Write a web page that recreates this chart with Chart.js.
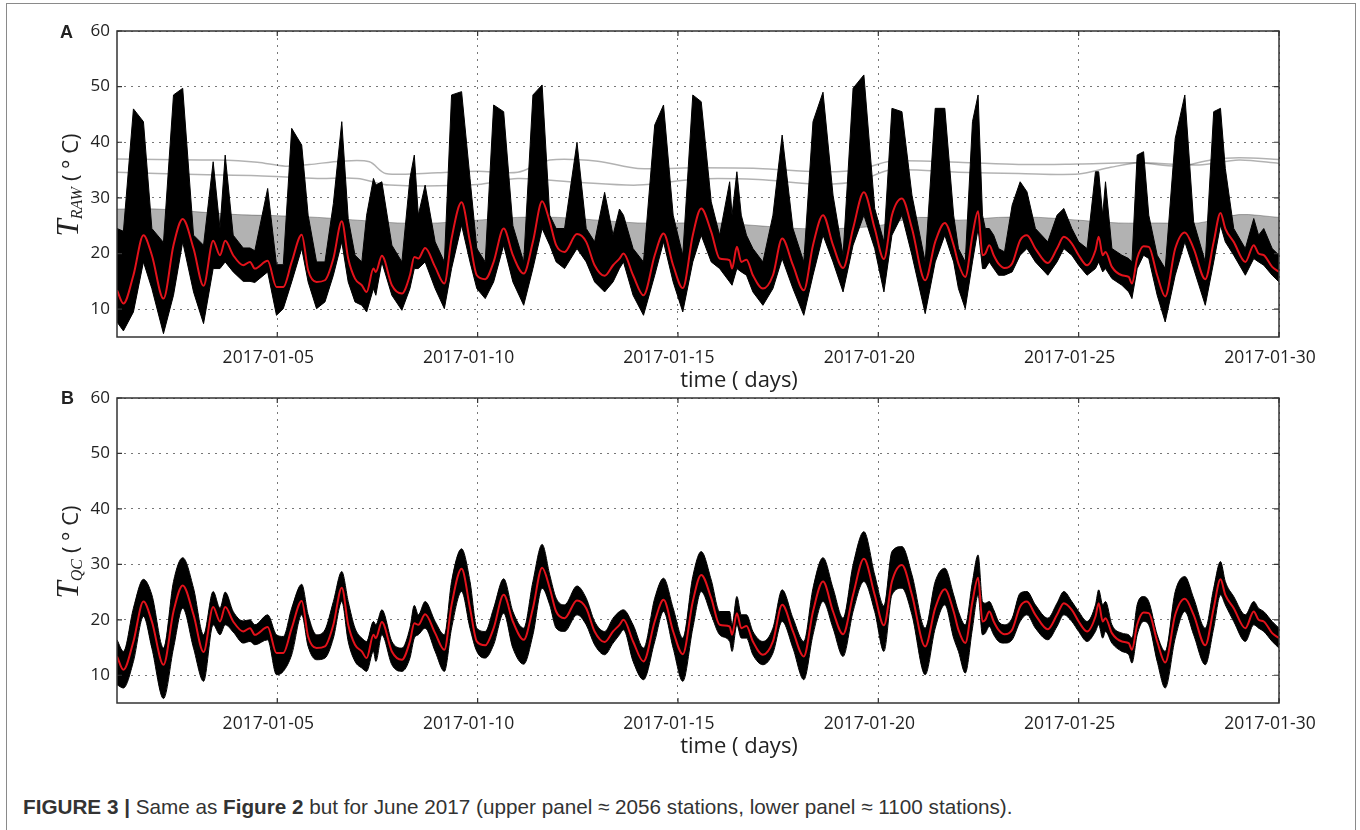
<!DOCTYPE html>
<html>
<head>
<meta charset="utf-8">
<script src="https://cdn.jsdelivr.net/npm/chart.js@4.4.1/dist/chart.umd.min.js"></script>
<style>
  body { margin: 0; background: #fff; width: 1360px; height: 830px; position: relative; overflow: hidden; font-family: "Open Sans", sans-serif; color: #222; }
  .frame { position: absolute; left: 6px; top: 3px; width: 1348px; height: 850px; border: 1.5px solid #8a8a8a; border-bottom: none; }
  canvas { position: absolute; left: 0; }
  .letter { position: absolute; font-family: "Liberation Sans", sans-serif; font-weight: bold; font-size: 18px; line-height: 1; }
  .ytitle { position: absolute; transform: translate(-50%, -50%) rotate(-90deg); white-space: nowrap; font-size: 22px; line-height: 1; }
  .ytitle i { font-family: "Liberation Serif", serif; font-size: 31px; }
  .ytitle sub { font-family: "Liberation Serif", serif; font-style: italic; font-size: 16px; vertical-align: -4px; margin-right: 6px; }
  .xtitle { position: absolute; transform: translate(-50%, -50%); font-size: 22px; white-space: nowrap; }
  .caption { position: absolute; left: 23px; top: 795px; font-family: "Liberation Sans", sans-serif; font-size: 20.7px; color: #333; white-space: nowrap; }
</style>
</head>
<body>
<div class="frame"></div>
<canvas id="chartA" width="1360" height="367" style="top:0"></canvas>
<canvas id="chartB" width="1360" height="400" style="top:367px"></canvas>

<div class="letter" style="left:60px;top:23px">A</div>
<div class="letter" style="left:61px;top:389px">B</div>
<div class="ytitle" style="left:68px;top:185px"><i>T</i><sub>RAW</sub>( ° C)</div>
<div class="ytitle" style="left:68px;top:552px"><i>T</i><sub>QC</sub>( ° C)</div>
<div class="xtitle" style="left:739px;top:378px">time ( days)</div>
<div class="xtitle" style="left:739px;top:744px">time ( days)</div>
<div class="caption"><b>FIGURE 3 |</b> Same as <b>Figure 2</b> but for June 2017 (upper panel ≈ 2056 stations, lower panel ≈ 1100 stations).</div>

<script>
// sample times (day of month) shared by the median and the station envelopes
const days = [
  1.0, 1.16, 1.41, 1.66, 1.87,
  2.16, 2.41, 2.64, 2.91,
  3.16, 3.40, 3.57, 3.70, 3.90,
  4.15, 4.32, 4.44, 4.76, 4.98,
  5.15, 5.36, 5.61, 5.77, 5.98,
  6.19, 6.40, 6.61, 6.77, 6.94,
  7.11, 7.23, 7.40, 7.46, 7.61, 7.86,
  8.11, 8.31, 8.42, 8.52, 8.69, 8.94,
  9.17, 9.35, 9.60, 9.81, 9.98,
  10.19, 10.40, 10.65, 10.88,
  11.15, 11.38, 11.61, 11.80, 11.96,
  12.17, 12.48, 12.71, 12.92,
  13.17, 13.38, 13.54, 13.64, 13.88,
  14.14, 14.42, 14.64, 14.88,
  15.12, 15.37, 15.58, 15.83,
  16.04, 16.29, 16.35, 16.47, 16.58, 16.71, 16.87,
  17.12, 17.37, 17.60, 17.87,
  18.14, 18.37, 18.62, 18.87,
  19.12, 19.37, 19.64, 19.91,
  20.14, 20.34, 20.59, 20.84,
  21.17, 21.42, 21.66, 21.88,
  22.00, 22.17, 22.35, 22.49, 22.60, 22.67, 22.77, 22.88,
  23.00, 23.15, 23.34, 23.54, 23.71, 23.92,
  24.23, 24.46, 24.63, 24.83,
  25.00, 25.21, 25.42, 25.50, 25.60, 25.67, 25.83,
  26.08, 26.25, 26.33, 26.46, 26.62, 26.75, 26.96,
  27.16, 27.41, 27.65, 27.87,
  28.16, 28.37, 28.54, 28.66, 28.87,
  29.16, 29.37, 29.49, 29.62, 29.83,
  30.0
];

// median over stations (red line)
const medianTemp = [
  13.4, 11.0, 16.1, 23.3, 19.7,
  11.9, 21.5, 26.2, 20.9,
  14.2, 22.3, 19.7, 22.3, 19.7,
  17.9, 18.5, 17.3, 18.7, 14.0,
  14.0, 18.5, 23.4, 17.0, 14.9,
  15.2, 19.1, 25.8, 19.1, 15.5,
  14.3, 13.1, 17.3, 16.7, 19.6, 14.3,
  12.8, 16.1, 19.4, 19.1, 21.0, 17.6,
  14.6, 22.7, 29.2, 22.1, 16.1,
  15.4, 18.5, 24.5, 19.7,
  16.4, 22.1, 29.4, 25.7, 21.5,
  20.3, 23.5, 22.1, 17.9,
  16.0, 17.9, 19.1, 20.0, 16.1,
  12.5, 19.7, 23.6, 17.9,
  13.8, 23.3, 28.1, 23.9,
  19.1, 18.8, 17.3, 21.2, 18.5, 18.9, 16.1,
  13.7, 16.1, 22.7, 17.9,
  13.4, 21.5, 26.9, 21.5,
  17.4, 24.5, 31.0, 24.5,
  19.0, 26.9, 29.9, 24.5,
  15.2, 22.1, 25.5, 21.5,
  18.2, 15.8, 23.3, 27.6, 19.7, 20.0, 21.5, 19.7,
  18.2, 17.4, 18.2, 22.4, 23.3, 20.9,
  18.3, 20.9, 23.0, 21.8,
  19.7, 17.9, 20.6, 23.0, 19.7, 20.3, 17.6,
  16.1, 15.8, 14.6, 19.1, 21.3, 21.2, 16.1,
  12.3, 20.9, 23.8, 20.9,
  15.4, 22.1, 27.3, 24.5, 22.1,
  18.5, 21.5, 20.0, 19.7, 17.6,
  16.7
];

// raw stations: upper / lower edge of the dense black mass
const rawHigh = [
  24.5, 24.0, 46.0, 43.7, 24.5,
  22.0, 48.5, 49.7, 23.3,
  21.5, 36.5, 24.5, 37.7, 23.3,
  21.0, 21.0, 20.5, 31.7, 18.0,
  18.0, 42.5, 39.5, 26.9, 18.5,
  18.5, 29.0, 43.7, 26.3, 19.7,
  18.5, 26.9, 33.5, 32.3, 32.9, 21.5,
  18.5, 33.5, 37.7, 26.9, 32.3, 22.1,
  18.5, 48.5, 49.1, 33.5, 20.9,
  18.5, 46.7, 45.5, 25.0,
  18.5, 48.5, 50.3, 26.9, 24.5,
  24.5, 40.0, 24.5, 22.1,
  31.0, 23.3, 28.0, 26.9, 20.9,
  18.5, 43.1, 46.7, 26.9,
  19.7, 48.5, 47.3, 29.3,
  23.3, 32.9, 26.9, 34.7, 26.9, 23.3, 20.9,
  18.5, 26.9, 41.3, 24.5,
  18.5, 43.7, 49.0, 30.5,
  19.7, 49.7, 52.1, 28.1,
  22.1, 46.1, 45.5, 30.5,
  18.5, 46.1, 46.1, 26.9,
  20.9, 18.5, 43.7, 48.5, 26.9, 24.5, 24.5, 23.3,
  20.9, 20.3, 28.7, 32.9, 31.1, 24.5,
  22.1, 26.9, 28.1, 24.5,
  22.1, 20.9, 34.7, 34.7, 26.9, 32.9, 20.9,
  19.7, 19.1, 18.5, 37.7, 38.3, 26.9, 19.7,
  17.3, 40.7, 48.5, 25.7,
  18.5, 45.5, 46.1, 35.3, 24.5,
  20.9, 26.3, 23.3, 24.5, 20.9,
  19.7
];
const rawLow = [
  7.7, 6.1, 9.5, 18.5, 13.7,
  5.6, 12.5, 22.1, 13.1,
  7.4, 17.3, 17.3, 18.5, 16.7,
  15.0, 15.0, 14.8, 16.7, 8.9,
  10.1, 14.9, 20.9, 14.9, 10.1,
  11.3, 16.1, 22.1, 14.9, 11.3,
  10.7, 9.5, 13.7, 12.5, 18.5, 12.5,
  9.8, 13.7, 17.3, 17.3, 18.5, 13.7,
  10.1, 17.3, 25.1, 18.5, 13.7,
  11.9, 14.9, 21.5, 14.9,
  10.7, 17.3, 24.5, 21.5, 18.5,
  17.3, 20.9, 18.5, 14.9,
  13.1, 14.9, 17.3, 18.5, 12.5,
  8.9, 16.1, 22.1, 14.9,
  9.5, 18.5, 23.3, 18.5,
  17.3, 14.9, 14.3, 17.3, 16.7, 16.1, 13.1,
  10.7, 13.7, 19.1, 13.7,
  8.9, 16.1, 23.3, 18.5,
  13.1, 21.5, 26.9, 20.9,
  13.1, 23.3, 26.9, 19.7,
  9.2, 18.5, 23.3, 18.5,
  13.7, 10.1, 18.5, 24.5, 17.3, 17.3, 18.5, 17.3,
  16.1, 16.1, 16.7, 19.7, 20.9, 18.5,
  16.1, 18.5, 20.9, 19.7,
  17.9, 16.1, 17.3, 18.5, 16.7, 17.3, 15.5,
  14.3, 13.1, 11.9, 17.3, 19.7, 19.1, 12.5,
  7.7, 16.1, 22.1, 17.3,
  10.7, 18.5, 25.1, 22.1, 19.7,
  16.1, 19.1, 18.5, 17.9, 16.1,
  14.9
];

// quality-controlled stations: upper / lower edge
const qcHigh = [
  16.4, 14.3, 22.1, 27.3, 24.5,
  14.9, 26.9, 31.2, 25.7,
  17.3, 25.1, 22.1, 25.0, 21.5,
  19.8, 20.0, 19.1, 20.9, 17.3,
  17.0, 22.1, 26.4, 20.9, 17.3,
  18.2, 23.3, 28.7, 23.3, 18.5,
  16.7, 16.1, 19.7, 19.1, 21.8, 16.1,
  14.9, 18.5, 22.6, 20.9, 23.3, 19.7,
  17.3, 26.9, 32.8, 26.9, 18.5,
  17.9, 22.1, 27.4, 21.5,
  18.5, 26.9, 33.6, 28.1, 23.9,
  22.7, 26.1, 23.9, 19.7,
  17.9, 20.3, 21.5, 21.8, 19.1,
  14.9, 23.9, 27.5, 22.1,
  16.7, 27.8, 32.3, 27.2,
  21.5, 21.5, 19.1, 24.2, 20.9, 20.9, 17.9,
  16.1, 18.5, 25.4, 20.3,
  16.1, 25.7, 31.2, 25.7,
  20.3, 29.9, 35.9, 28.1,
  22.5, 32.3, 33.2, 28.1,
  18.5, 26.9, 29.3, 24.5,
  21.5, 19.1, 26.9, 31.7, 23.3, 23.0, 23.3, 21.8,
  19.7, 19.1, 20.3, 24.8, 25.1, 22.7,
  20.3, 23.0, 25.1, 23.3,
  21.5, 19.7, 22.7, 25.4, 22.7, 23.3, 19.1,
  17.6, 17.3, 16.7, 22.7, 24.2, 23.3, 17.3,
  14.3, 25.1, 27.8, 23.9,
  18.5, 25.7, 30.5, 26.9, 24.2,
  20.9, 23.3, 22.1, 21.5, 19.7,
  18.5
];
const qcLow = [
  8.3, 7.7, 12.5, 20.6, 14.9,
  5.8, 14.9, 22.1, 14.9,
  8.9, 19.1, 17.3, 19.1, 17.8,
  15.8, 16.1, 15.5, 16.4, 10.1,
  10.7, 13.7, 20.9, 15.2, 12.8,
  13.1, 16.7, 23.3, 16.1, 12.5,
  11.3, 10.7, 14.3, 12.5, 17.3, 11.9,
  10.7, 13.1, 16.7, 17.3, 18.5, 14.3,
  10.7, 18.5, 25.1, 18.5, 14.3,
  13.1, 15.5, 21.2, 14.9,
  12.0, 17.3, 25.7, 22.7, 18.5,
  17.9, 20.9, 19.1, 15.5,
  13.7, 15.8, 17.3, 18.2, 12.5,
  9.2, 16.1, 21.5, 14.9,
  8.9, 18.5, 25.1, 20.9,
  17.3, 16.1, 14.3, 19.1, 16.7, 16.7, 13.7,
  11.9, 14.0, 19.7, 14.9,
  9.2, 17.3, 23.3, 18.5,
  13.4, 21.5, 26.9, 21.5,
  14.3, 24.5, 25.7, 20.9,
  10.1, 18.5, 22.7, 16.7,
  14.3, 10.4, 18.5, 24.5, 17.3, 17.6, 18.8, 17.3,
  16.1, 15.8, 16.4, 19.7, 20.9, 18.5,
  16.4, 18.8, 20.9, 19.7,
  17.9, 16.1, 17.9, 19.1, 16.7, 17.9, 15.8,
  14.3, 13.7, 12.2, 17.3, 19.7, 19.1, 12.5,
  7.7, 16.7, 21.5, 17.3,
  11.9, 18.5, 24.5, 22.7, 19.7,
  16.1, 19.1, 18.5, 17.9, 16.1,
  14.9
];

// grey spaghetti of individual raw stations above the dense mass
const hazeDays = [1, 2, 3, 4, 5, 6, 7, 8, 9, 10, 11, 12, 13, 14, 15, 16, 17, 18, 19, 20, 21, 22, 23, 24, 25, 26, 27, 28, 29, 30];
const hazeTop = [28.0, 28.0, 27.5, 27.0, 26.8, 26.5, 26.0, 25.5, 25.5, 26.0, 26.5, 26.5, 26.0, 25.5, 25.5, 25.5, 25.0, 24.5, 24.5, 25.0, 26.5, 26.0, 26.5, 26.5, 26.0, 25.5, 25.5, 25.5, 27.0, 26.5];

// two nearly flat outlier stations
const outlierOneDays = [1, 2, 3.5, 4.5, 5.2, 5.8, 6.6, 7.3, 7.7, 9, 10, 11, 11.8, 13, 14, 15.5, 17, 18.5, 19.5, 20.3, 22, 23.5, 25, 26.5, 27.5, 28.3, 29, 30];
const outlierOneTemp = [37.0, 36.9, 36.8, 36.4, 35.7, 36.0, 36.6, 36.5, 34.4, 34.5, 34.8, 34.6, 36.8, 36.6, 35.3, 35.4, 35.3, 34.7, 35.0, 36.6, 36.4, 36.0, 36.1, 36.3, 35.7, 36.8, 37.2, 36.9];
const outlierTwoDays = [1, 3, 4.5, 6, 7, 7.8, 10, 11, 12.5, 14, 15.5, 17, 18.5, 19.5, 20.3, 22, 23.5, 25, 25.8, 26.5, 28, 29, 30];
const outlierTwoTemp = [34.6, 34.2, 34.0, 33.5, 33.5, 32.3, 32.4, 33.5, 32.8, 32.3, 33.4, 33.3, 32.5, 33.0, 35.0, 34.6, 34.4, 34.3, 35.5, 36.3, 35.9, 36.8, 36.2];

const xTickValues = [5, 10, 15, 20, 25, 30];
const xTickLabels = ['2017-01-05', '2017-01-10', '2017-01-15', '2017-01-20', '2017-01-25', '2017-01-30'];
const yTickValues = [10, 20, 30, 40, 50, 60];

function pts(xs, ys) {
  return xs.map((x, i) => ({ x: x, y: ys[i] }));
}

// matplotlib style box with inward tick marks
const frameBox = {
  id: 'frameBox',
  afterDatasetsDraw(chart) {
    const { ctx, chartArea: a, scales } = chart;
    ctx.save();
    ctx.strokeStyle = '#333';
    ctx.lineWidth = 1.5;
    ctx.strokeRect(a.left, a.top, a.right - a.left, a.bottom - a.top);
    ctx.lineWidth = 1.2;
    ctx.beginPath();
    scales.x.ticks.forEach(t => {
      const px = scales.x.getPixelForValue(t.value);
      ctx.moveTo(px, a.bottom); ctx.lineTo(px, a.bottom - 5);
      ctx.moveTo(px, a.top); ctx.lineTo(px, a.top + 5);
    });
    scales.y.ticks.forEach(t => {
      const py = scales.y.getPixelForValue(t.value);
      ctx.moveTo(a.left, py); ctx.lineTo(a.left + 5, py);
      ctx.moveTo(a.right, py); ctx.lineTo(a.right - 5, py);
    });
    ctx.stroke();
    ctx.restore();
  }
};

function makeOptions(xHeight) {
  return {
    responsive: false,
    devicePixelRatio: 1,
    animation: false,
    events: [],
    layout: { padding: { top: 31, right: 81, left: 0, bottom: 0 } },
    plugins: { legend: { display: false }, tooltip: { enabled: false } },
    elements: { point: { radius: 0 } },
    scales: {
      x: {
        type: 'linear',
        min: 1,
        max: 30,
        afterFit: s => { s.height = xHeight; },
        afterBuildTicks: s => { s.ticks = xTickValues.map(v => ({ value: v })); },
        ticks: {
          padding: 11,
          labelOffset: -9,
          maxRotation: 0,
          color: '#222',
          font: { family: 'Open Sans', size: 17.5 },
          callback: v => xTickLabels[xTickValues.indexOf(v)]
        },
        grid: { color: '#777', lineWidth: 1, drawTicks: false },
        border: { display: false, dash: [2, 5] }
      },
      y: {
        min: 5,
        max: 60,
        afterFit: s => { s.width = 117; },
        afterBuildTicks: s => { s.ticks = yTickValues.map(v => ({ value: v })); },
        ticks: {
          padding: 7,
          color: '#222',
          font: { family: 'Open Sans', size: 17 }
        },
        grid: { color: '#777', lineWidth: 1, drawTicks: false },
        border: { display: false, dash: [2, 5] }
      }
    }
  };
}

const medianLine = {
  data: pts(days, medianTemp),
  borderColor: '#e3121b',
  borderWidth: 2,
  cubicInterpolationMode: 'monotone',
  fill: false,
  order: 0
};

new Chart(document.getElementById('chartA'), {
  type: 'line',
  data: {
    datasets: [
      medianLine,
      { data: pts(days, rawLow), borderColor: '#000', borderWidth: 1, fill: false, order: 2 },
      { data: pts(days, rawHigh), borderColor: '#000', borderWidth: 1, backgroundColor: '#000', fill: 1, order: 2 },
      { data: pts(outlierOneDays, outlierOneTemp), borderColor: 'rgba(0,0,0,0.3)', borderWidth: 1.5, tension: 0.3, fill: false, order: 4 },
      { data: pts(outlierTwoDays, outlierTwoTemp), borderColor: 'rgba(0,0,0,0.3)', borderWidth: 1.5, tension: 0.3, fill: false, order: 4 },
      { data: pts(hazeDays, hazeTop), borderColor: 'rgba(0,0,0,0.3)', borderWidth: 1, backgroundColor: 'rgba(0,0,0,0.3)', tension: 0.3, fill: 1, order: 5 }
    ]
  },
  options: makeOptions(30),
  plugins: [frameBox]
});

new Chart(document.getElementById('chartB'), {
  type: 'line',
  data: {
    datasets: [
      Object.assign({}, medianLine, { data: pts(days, medianTemp) }),
      { data: pts(days, qcLow), borderColor: '#000', borderWidth: 1, cubicInterpolationMode: 'monotone', fill: false, order: 2 },
      { data: pts(days, qcHigh), borderColor: '#000', borderWidth: 1, backgroundColor: '#000', cubicInterpolationMode: 'monotone', fill: 1, order: 2 }
    ]
  },
  options: makeOptions(64),
  plugins: [frameBox]
});
</script>
</body>
</html>
